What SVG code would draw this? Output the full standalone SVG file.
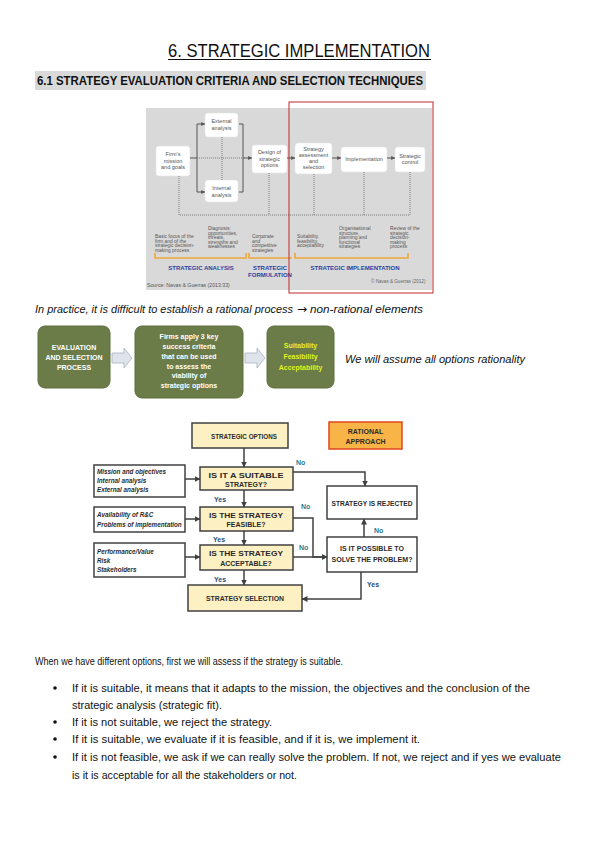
<svg xmlns="http://www.w3.org/2000/svg" width="599" height="848" viewBox="0 0 599 848">
<defs>
<marker id="fa" markerWidth="6" markerHeight="6" refX="5.5" refY="3" orient="auto" markerUnits="userSpaceOnUse"><path d="M0,0 L6,3 L0,6 z" fill="#404040"/></marker>
<marker id="ta" markerWidth="4" markerHeight="4" refX="3.8" refY="2" orient="auto" markerUnits="userSpaceOnUse"><path d="M0,0 L4,2 L0,4 z" fill="#555"/></marker>
</defs>
<style>
text{font-family:"Liberation Sans",Arial,sans-serif}
.body{font-size:10.8px;fill:#111}
.fig{font-size:5.5px;fill:#555;text-anchor:middle}
.figl{font-size:4.9px;fill:#555}
.figb{font-size:6px;font-weight:bold;fill:#2a3f9f;text-anchor:middle}
.wbox{fill:#fff;stroke:#e6e6e6;stroke-width:0.6}
.fl{stroke:#555;stroke-width:1;fill:none}
.dot{stroke:#666;stroke-width:0.8;stroke-dasharray:1 1;fill:none}
.gbox{fill:#6b7c49;stroke:#5e6e40;stroke-width:1}
.gt{font-size:7px;font-weight:bold;fill:#fff;text-anchor:middle}
.yt{font-size:7px;font-weight:bold;fill:#e4f01c;text-anchor:middle}
.barr{fill:#dfe4ea;stroke:#a9b3c2;stroke-width:0.8}
.node{fill:#fdf0c2;stroke:#404040;stroke-width:1.5}
.ibox{fill:#fff;stroke:#404040;stroke-width:1.5}
.nt{font-size:7px;font-weight:bold;fill:#2b2b2b;text-anchor:middle}
.it{font-size:6.3px;font-weight:bold;font-style:italic;fill:#2b2b2b}
.con{stroke:#404040;stroke-width:1.5;fill:none}
.yes{font-size:7px;font-weight:bold;fill:#1f4e79}
.no{font-size:7px;font-weight:bold;fill:#2b7a8f}
</style>
<rect width="599" height="848" fill="#fff"/>

<!-- Title -->
<g id="title">
<text x="168" y="57" font-size="19" fill="#111" textLength="262" lengthAdjust="spacingAndGlyphs">6. STRATEGIC IMPLEMENTATION</text>
<line x1="168" y1="59.5" x2="431" y2="59.5" stroke="#111" stroke-width="1"/>
</g>
<g id="heading">
<rect x="35" y="71" width="391" height="19" fill="#d9d9d9"/>
<text x="37" y="85" font-size="12.5" font-weight="bold" fill="#111" textLength="386" lengthAdjust="spacingAndGlyphs">6.1 STRATEGY EVALUATION CRITERIA AND SELECTION TECHNIQUES</text>
</g>

<!-- Top figure -->
<g id="figure">
<rect x="146" y="108" width="286" height="182" fill="#d9d9d9"/>
<g id="f-firm"><rect class="wbox" x="156" y="146" width="34" height="30" rx="3"/>
<text class="fig" x="173" y="156">Firm's</text><text class="fig" x="173" y="162.5">mission</text><text class="fig" x="173" y="169">and goals</text></g>
<g id="f-ext"><rect class="wbox" x="205" y="113" width="33" height="24" rx="3"/>
<text class="fig" x="221.5" y="123">External</text><text class="fig" x="221.5" y="130">analysis</text></g>
<g id="f-int"><rect class="wbox" x="205" y="180" width="33" height="22" rx="3"/>
<text class="fig" x="221.5" y="190">Internal</text><text class="fig" x="221.5" y="197">analysis</text></g>
<g id="f-design"><rect class="wbox" x="252" y="145" width="35" height="28" rx="3"/>
<text class="fig" x="269.5" y="154">Design of</text><text class="fig" x="269.5" y="160.5">strategic</text><text class="fig" x="269.5" y="167">options</text></g>
<g id="f-assess"><rect class="wbox" x="295" y="143" width="37" height="31" rx="3"/>
<text class="fig" x="313.5" y="150.5">Strategy</text><text class="fig" x="313.5" y="156.5">assessment</text><text class="fig" x="313.5" y="162.5">and</text><text class="fig" x="313.5" y="168.5">selection</text></g>
<g id="f-impl"><rect class="wbox" x="341" y="147" width="46" height="25" rx="3"/>
<text class="fig" x="364" y="161">Implementation</text></g>
<g id="f-ctrl"><rect class="wbox" x="395" y="147" width="30" height="25" rx="3"/>
<text class="fig" x="410" y="157.5">Strategic</text><text class="fig" x="410" y="164">control</text></g>
<g id="f-lines">
<line class="fl" x1="190" y1="158" x2="197" y2="158"/>
<path class="fl" d="M197,124 V192"/>
<line class="fl" x1="197" y1="124" x2="205" y2="124" marker-end="url(#ta)"/>
<line class="fl" x1="197" y1="192" x2="205" y2="192" marker-end="url(#ta)"/>
<path class="fl" d="M239,124 H243 V192 H239"/>
<line class="fl" x1="243" y1="158" x2="252" y2="158" marker-end="url(#ta)"/>
<line class="fl" x1="287" y1="158" x2="295" y2="158" marker-end="url(#ta)"/>
<line class="fl" x1="332" y1="158" x2="341" y2="158" marker-end="url(#ta)"/>
<line class="fl" x1="387" y1="158" x2="395" y2="158" marker-end="url(#ta)"/>
<line class="dot" x1="197" y1="158" x2="243" y2="158"/>
<line class="dot" x1="222" y1="137" x2="222" y2="180"/>
<path class="dot" d="M179,176 V215 H410 V172"/>
<line class="dot" x1="269" y1="173" x2="269" y2="215"/>
<line class="dot" x1="314" y1="174" x2="314" y2="215"/>
<line class="dot" x1="364" y1="172" x2="364" y2="215"/>
</g>
<g id="f-desc">
<text class="figl" x="155" y="238">Basic focus of the</text><text class="figl" x="155" y="242.5">firm and of the</text><text class="figl" x="155" y="247">strategic decision-</text><text class="figl" x="155" y="251.5">making process</text>
<text class="figl" x="208" y="230">Diagnosis:</text><text class="figl" x="208" y="234.5">opportunities,</text><text class="figl" x="208" y="239">threats,</text><text class="figl" x="208" y="243.5">strengths and</text><text class="figl" x="208" y="248">weaknesses</text>
<text class="figl" x="252" y="238">Corporate</text><text class="figl" x="252" y="242.5">and</text><text class="figl" x="252" y="247">competitive</text><text class="figl" x="252" y="251.5">strategies</text>
<text class="figl" x="297" y="238">Suitability,</text><text class="figl" x="297" y="242.5">feasibility,</text><text class="figl" x="297" y="247">acceptability</text>
<text class="figl" x="339" y="230">Organisational</text><text class="figl" x="339" y="234.5">structure,</text><text class="figl" x="339" y="239">planning and</text><text class="figl" x="339" y="243.5">functional</text><text class="figl" x="339" y="248">strategies</text>
<text class="figl" x="390" y="230">Review of the</text><text class="figl" x="390" y="234.5">strategic</text><text class="figl" x="390" y="239">decision-</text><text class="figl" x="390" y="243.5">making</text><text class="figl" x="390" y="248">process</text>
</g>
<g id="f-brackets" stroke="#f0a63a" stroke-width="1.6" fill="none">
<path d="M155,253 V258 H246 V253"/>
<path d="M249,253 V258 H292"/>
<path d="M295,253 V258 H408 V253"/>
</g>
<text class="figb" x="201" y="270">STRATEGIC ANALYSIS</text>
<text class="figb" x="270" y="270">STRATEGIC</text>
<text class="figb" x="270" y="277">FORMULATION</text>
<text class="figb" x="355" y="270">STRATEGIC IMPLEMENTATION</text>
<text x="147" y="287" font-size="5.2" fill="#555">Source: Navas &amp; Guerras (2013:33)</text>
<text x="371" y="283" font-size="4.6" fill="#666">© Navas &amp; Guerras (2012)</text>
<rect x="289" y="102" width="144" height="191" fill="none" stroke="#c0282d" stroke-width="1"/>
</g>

<text x="35" y="313" font-size="11" font-style="italic" fill="#111">
<tspan textLength="258" lengthAdjust="spacingAndGlyphs">In practice, it is difficult to establish a rational process</tspan>
<tspan x="297" font-family="DejaVu Sans,sans-serif" font-style="normal" font-size="12">→</tspan>
<tspan x="310" textLength="113" lengthAdjust="spacingAndGlyphs">non-rational elements</tspan>
</text>

<!-- Green process -->
<g id="eval">
<rect class="gbox" x="38" y="326" width="72" height="62" rx="7"/>
<text class="gt" x="74" y="350">EVALUATION</text>
<text class="gt" x="74" y="360">AND SELECTION</text>
<text class="gt" x="74" y="370">PROCESS</text>
</g>
<g id="criteria">
<rect class="gbox" x="135" y="326" width="108" height="72" rx="7"/>
<text class="gt" x="189" y="339" font-size="6.5">Firms apply 3 key</text>
<text class="gt" x="189" y="349" font-size="6.5">success criteria</text>
<text class="gt" x="189" y="359" font-size="6.5">that can be used</text>
<text class="gt" x="189" y="369" font-size="6.5">to assess the</text>
<text class="gt" x="189" y="378" font-size="6.5">viability of</text>
<text class="gt" x="189" y="388" font-size="6.5">strategic options</text>
</g>
<g id="sfa">
<rect class="gbox" x="267" y="326" width="67" height="62" rx="7"/>
<text class="yt" x="300.5" y="348" font-size="6.5">Suitability</text>
<text class="yt" x="300.5" y="359" font-size="6.5">Feasibility</text>
<text class="yt" x="300.5" y="370" font-size="6.5">Acceptability</text>
</g>
<g id="process-arrows">
<polygon class="barr" points="112,353 124,353 124,348 132,358 124,368 124,363 112,363"/>
<polygon class="barr" points="245,353 257,353 257,348 265,358 257,368 257,363 245,363"/>
</g>
<text x="345" y="363" font-size="10.5" font-style="italic" fill="#111" textLength="180" lengthAdjust="spacingAndGlyphs">We will assume all options rationality</text>

<!-- Flowchart -->
<g id="n-options"><rect class="node" x="192" y="423" width="96" height="25"/>
<text class="nt" x="244" y="438.5" textLength="66" lengthAdjust="spacingAndGlyphs">STRATEGIC OPTIONS</text></g>
<g id="n-rational"><rect x="329" y="422" width="73" height="27" fill="#f8b447" stroke="#e0461e" stroke-width="1.5"/>
<text class="nt" x="365.5" y="433.5" fill="#3a2810">RATIONAL</text>
<text class="nt" x="365.5" y="444" fill="#3a2810">APPROACH</text></g>
<g id="n-suitable"><rect class="node" x="200" y="467" width="93" height="23"/>
<text class="nt" x="246" y="477.5" textLength="75" lengthAdjust="spacingAndGlyphs">IS IT A SUITABLE</text>
<text class="nt" x="246" y="487">STRATEGY?</text></g>
<g id="n-feasible"><rect class="node" x="200" y="507" width="93" height="24"/>
<text class="nt" x="246" y="517.5" textLength="74" lengthAdjust="spacingAndGlyphs">IS THE STRATEGY</text>
<text class="nt" x="246" y="527">FEASIBLE?</text></g>
<g id="n-acceptable"><rect class="node" x="200" y="545" width="93" height="25"/>
<text class="nt" x="246" y="556" textLength="74" lengthAdjust="spacingAndGlyphs">IS THE STRATEGY</text>
<text class="nt" x="246" y="565.5">ACCEPTABLE?</text></g>
<g id="n-selection"><rect class="node" x="188" y="585" width="114" height="26"/>
<text class="nt" x="245" y="600.5" textLength="78" lengthAdjust="spacingAndGlyphs">STRATEGY SELECTION</text></g>
<g id="n-rejected"><rect class="ibox" x="327" y="486" width="90" height="33"/>
<text class="nt" x="372" y="505.5" textLength="81" lengthAdjust="spacingAndGlyphs">STRATEGY IS REJECTED</text></g>
<g id="n-possible"><rect class="ibox" x="327" y="537" width="90" height="35"/>
<text class="nt" x="372" y="551" textLength="64" lengthAdjust="spacingAndGlyphs">IS IT POSSIBLE TO</text>
<text class="nt" x="372" y="562" textLength="81" lengthAdjust="spacingAndGlyphs">SOLVE THE PROBLEM?</text></g>
<g id="in-1"><rect class="ibox" x="94" y="465" width="91" height="32"/>
<text class="it" x="97" y="474">Mission and objectives</text>
<text class="it" x="97" y="483">Internal analysis</text>
<text class="it" x="97" y="491.5">External analysis</text></g>
<g id="in-2"><rect class="ibox" x="94" y="507" width="91" height="25"/>
<text class="it" x="97" y="517" font-size="5.8">Availability of R&amp;C</text>
<text class="it" x="97" y="527" font-size="5.8">Problems of implementation</text></g>
<g id="in-3"><rect class="ibox" x="94" y="543" width="91" height="34"/>
<text class="it" x="97" y="554">Performance/Value</text>
<text class="it" x="97" y="563">Risk</text>
<text class="it" x="97" y="571.5">Stakeholders</text></g>

<g id="connectors">
<line class="con" x1="244" y1="448" x2="244" y2="467" marker-end="url(#fa)"/>
<line class="con" x1="244" y1="490" x2="244" y2="507" marker-end="url(#fa)"/>
<line class="con" x1="244" y1="531" x2="244" y2="545" marker-end="url(#fa)"/>
<line class="con" x1="244" y1="570" x2="244" y2="585" marker-end="url(#fa)"/>
<path class="con" d="M293,472 H365 V486" marker-end="url(#fa)"/>
<path class="con" d="M293,518 H313 V557 H327" marker-end="url(#fa)"/>
<line class="con" x1="293" y1="557" x2="327" y2="557" marker-end="url(#fa)"/>
<line class="con" x1="364" y1="537" x2="364" y2="519" marker-end="url(#fa)"/>
<path class="con" d="M361,572 V599 H302" marker-end="url(#fa)"/>
<line class="con" x1="185" y1="479" x2="200" y2="479" marker-end="url(#fa)"/>
<line class="con" x1="185" y1="519" x2="200" y2="519" marker-end="url(#fa)"/>
<line class="con" x1="185" y1="557" x2="200" y2="557" marker-end="url(#fa)"/>
</g>
<g id="labels">
<text class="no" x="296" y="465">No</text>
<text class="yes" x="214" y="501.5">Yes</text>
<text class="no" x="301" y="509">No</text>
<text class="yes" x="213" y="541.5">Yes</text>
<text class="no" x="299" y="550">No</text>
<text class="yes" x="214" y="581.5">Yes</text>
<text class="no" x="374" y="533">No</text>
<text class="yes" x="367" y="587">Yes</text>
</g>

<!-- Body text -->
<g id="body">
<text class="body" x="35" y="665" textLength="308" lengthAdjust="spacingAndGlyphs">When we have different options, first we will assess if the strategy is suitable.</text>
<circle cx="55" cy="688" r="1.8" fill="#111"/>
<text class="body" x="72" y="692" textLength="458" lengthAdjust="spacingAndGlyphs">If it is suitable, it means that it adapts to the mission, the objectives and the conclusion of the</text>
<text class="body" x="72" y="709" textLength="150" lengthAdjust="spacingAndGlyphs">strategic analysis (strategic fit).</text>
<circle cx="55" cy="722" r="1.8" fill="#111"/>
<text class="body" x="72" y="726" textLength="200" lengthAdjust="spacingAndGlyphs">If it is not suitable, we reject the strategy.</text>
<circle cx="55" cy="739" r="1.8" fill="#111"/>
<text class="body" x="72" y="743" textLength="348" lengthAdjust="spacingAndGlyphs">If it is suitable, we evaluate if it is feasible, and if it is, we implement it.</text>
<circle cx="55" cy="757" r="1.8" fill="#111"/>
<text class="body" x="72" y="761" textLength="489" lengthAdjust="spacingAndGlyphs">If it is not feasible, we ask if we can really solve the problem. If not, we reject and if yes we evaluate</text>
<text class="body" x="72" y="779" textLength="225" lengthAdjust="spacingAndGlyphs">is it is acceptable for all the stakeholders or not.</text>
</g>
</svg>
